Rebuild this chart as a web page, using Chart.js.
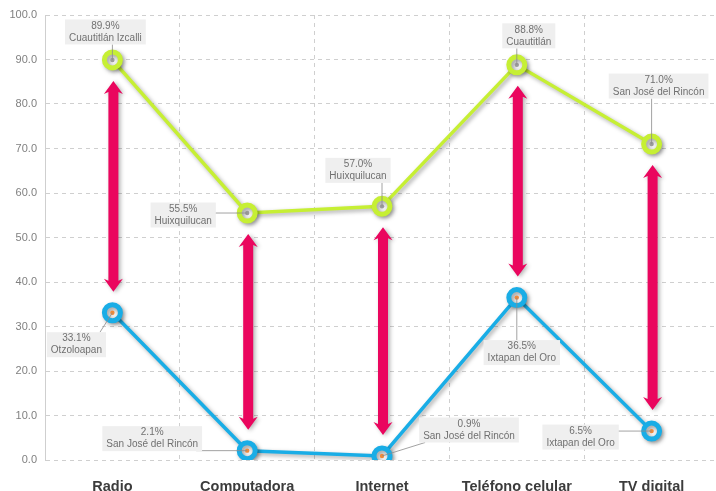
<!DOCTYPE html>
<html>
<head>
<meta charset="utf-8">
<script src="https://cdn.jsdelivr.net/npm/chart.js@4/dist/chart.umd.min.js"></script>
<style>
  html, body { margin: 0; padding: 0; background: #fff; overflow: hidden; }
  #chart { display: block; }
</style>
</head>
<body>
<canvas id="chart" width="732" height="491"></canvas>
<script>
const categories = ["Radio", "Computadora", "Internet", "Teléfono celular", "TV digital"];
const maxValues = [89.9, 55.5, 57.0, 88.8, 71.0];
const maxPlaces = ["Cuautitlán Izcalli", "Huixquilucan", "Huixquilucan", "Cuautitlán", "San José del Rincón"];
const minValues = [33.1, 2.1, 0.9, 36.5, 6.5];
const minPlaces = ["Otzoloapan", "San José del Rincón", "San José del Rincón", "Ixtapan del Oro", "Ixtapan del Oro"];
const yTicks = [0, 10, 20, 30, 40, 50, 60, 70, 80, 90, 100];

// where each callout box sits, relative to its point (px)
const maxBoxOffset = [[-7, -28], [-64, 2], [-24, -36], [12, -29], [7, -58]];
const minBoxOffset = [[-36, 32], [-95, -12], [87, -26], [5, 55], [-71, 6]];

const GREEN = "#c6ef34";
const BLUE = "#19ade6";
const PINK = "#ea065e";
const FONT = "'Liberation Sans', Arial, sans-serif";

const shadowPlugin = {
  id: "shadow",
  beforeDatasetDraw(chart) {
    const ctx = chart.ctx;
    ctx.save();
    ctx.shadowColor = "rgba(0,0,0,0.35)";
    ctx.shadowBlur = 4;
    ctx.shadowOffsetX = 2;
    ctx.shadowOffsetY = 2;
  },
  afterDatasetDraw(chart) {
    chart.ctx.restore();
  }
};

const arrowPlugin = {
  id: "arrows",
  beforeDatasetsDraw(chart) {
    const ctx = chart.ctx;
    const x = chart.scales.x, y = chart.scales.y;
    ctx.save();
    ctx.fillStyle = PINK;
    ctx.shadowColor = "rgba(0,0,0,0.3)";
    ctx.shadowBlur = 4;
    ctx.shadowOffsetX = 2;
    ctx.shadowOffsetY = 1;
    categories.forEach((c, i) => {
      const cx = x.getPixelForValue(i) + 1;
      const top = y.getPixelForValue(maxValues[i]) + 21;
      const bot = y.getPixelForValue(minValues[i]) - 21;
      const sw = 5, hw = 9.5, hl = 13;
      ctx.beginPath();
      ctx.moveTo(cx, top);
      ctx.lineTo(cx + hw, top + hl);
      ctx.lineTo(cx + sw, top + hl - 2);
      ctx.lineTo(cx + sw, bot - hl + 2);
      ctx.lineTo(cx + hw, bot - hl);
      ctx.lineTo(cx, bot);
      ctx.lineTo(cx - hw, bot - hl);
      ctx.lineTo(cx - sw, bot - hl + 2);
      ctx.lineTo(cx - sw, top + hl - 2);
      ctx.lineTo(cx - hw, top + hl);
      ctx.closePath();
      ctx.fill();
    });
    ctx.restore();
  }
};

const calloutPlugin = {
  id: "callouts",
  afterDatasetsDraw(chart) {
    const ctx = chart.ctx;
    const sets = [
      { values: maxValues, places: maxPlaces, offs: maxBoxOffset, dot: "#9a9a9a", meta: chart.getDatasetMeta(0) },
      { values: minValues, places: minPlaces, offs: minBoxOffset, dot: "#f08a3a", meta: chart.getDatasetMeta(1) }
    ];
    ctx.save();
    ctx.font = "10px " + FONT;
    sets.forEach(s => {
      s.meta.data.forEach((pt, i) => {
        const px = pt.x, py = pt.y;
        ctx.fillStyle = s.dot;
        ctx.beginPath();
        ctx.arc(px, py, 2.2, 0, Math.PI * 2);
        ctx.fill();

        const l1 = s.values[i].toFixed(1) + "%";
        const l2 = s.places[i];
        const w = Math.max(ctx.measureText(l1).width, ctx.measureText(l2).width) + 8;
        const h = 25;
        const bx = px + s.offs[i][0], by = py + s.offs[i][1];
        const left = bx - w / 2, topY = by - h / 2;
        const ax = Math.min(Math.max(px, left + 6), left + w - 6);
        const ay = Math.min(Math.max(py, topY), topY + h);
        ctx.strokeStyle = "#8a8a8a";
        ctx.lineWidth = 0.8;
        ctx.beginPath();
        ctx.moveTo(ax, ay);
        ctx.lineTo(px, py);
        ctx.stroke();
        ctx.fillStyle = "#efefef";
        ctx.fillRect(left, topY, w, h);
        ctx.fillStyle = "#707070";
        ctx.textAlign = "center";
        ctx.textBaseline = "middle";
        ctx.fillText(l1, bx, by - 6);
        ctx.fillText(l2, bx, by + 6);
      });
    });
    ctx.restore();
  }
};

new Chart(document.getElementById("chart"), {
  type: "line",
  data: {
    labels: categories,
    datasets: [
      {
        label: "Máximo", data: maxValues, borderColor: GREEN, borderWidth: 3.5,
        pointRadius: 8, pointBorderWidth: 5, pointBorderColor: GREEN,
        pointBackgroundColor: "#f2f2f2", tension: 0
      },
      {
        label: "Mínimo", data: minValues, borderColor: BLUE, borderWidth: 3.5,
        pointRadius: 8, pointBorderWidth: 5, pointBorderColor: BLUE,
        pointBackgroundColor: "#f2f2f2", tension: 0
      }
    ]
  },
  options: {
    responsive: false,
    animation: false,
    layout: { padding: { top: 15, right: 0, bottom: 0, left: 0 } },
    plugins: { legend: { display: false }, tooltip: { enabled: false } },
    scales: {
      x: {
        offset: true,
        grid: { offset: true, color: "#cfcfcf", lineWidth: 1, drawTicks: false },
        border: { display: false, dash: [4, 4] },
        ticks: { color: "#3c3c3c", font: { family: FONT, size: 14.5, weight: "bold" }, padding: 18 },
        afterFit(scale) {
          scale.height = 31;
          scale.paddingLeft = 0;
          scale.paddingRight = 0;
        }
      },
      y: {
        min: 0, max: 100,
        afterBuildTicks(scale) { scale.ticks = yTicks.map(v => ({ value: v })); },
        grid: { color: "#cfcfcf", lineWidth: 1, drawTicks: false },
        border: { display: true, dash: [4, 4], color: "#cfcfcf" },
        ticks: { color: "#808080", font: { family: FONT, size: 11 }, padding: 8, callback: v => v.toFixed(1) },
        afterFit(scale) { scale.width = 45; }
      }
    }
  },
  plugins: [arrowPlugin, shadowPlugin, calloutPlugin]
});
</script>
</body>
</html>
